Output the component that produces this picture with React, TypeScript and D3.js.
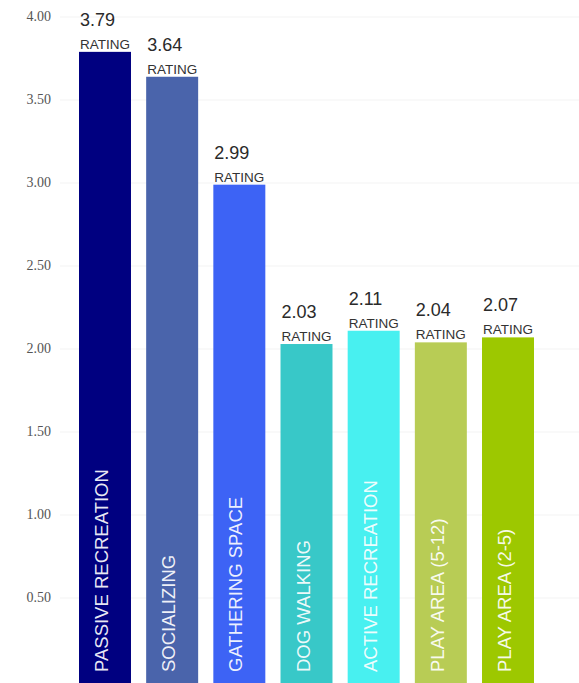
import React from "react";
import * as d3 from "d3";

const categories = [
  "PASSIVE RECREATION",
  "SOCIALIZING",
  "GATHERING SPACE",
  "DOG WALKING",
  "ACTIVE RECREATION",
  "PLAY AREA (5-12)",
  "PLAY AREA (2-5)",
];
const ratings = [3.79, 3.64, 2.99, 2.03, 2.11, 2.04, 2.07];
const colors = ["#000080", "#4a64ab", "#3d63f5", "#38c8c8", "#48f0f0", "#b8cc55", "#9dc800"];
const yTicks = [0.5, 1, 1.5, 2, 2.5, 3, 3.5, 4];
const ratingWord = "RATING";

const W = 579;
const H = 683;

export default function App() {
  const x = d3
    .scaleBand<string>()
    .domain(categories)
    .range([79, 534])
    .paddingInner(0.226)
    .paddingOuter(0);
  const y = d3.scaleLinear().domain([0, 4]).range([681, 17]);
  const bw = x.bandwidth();
  const sans = "Liberation Sans";
  const serif = "Liberation Serif";

  return (
    <div style={{ position: "absolute", left: 0, top: 0 }}>
      <svg width={W} height={H} style={{ display: "block", background: "#ffffff" }}>
        <g>
          {yTicks.map((t) => (
            <line key={"g" + t} x1={60} x2={W} y1={y(t)} y2={y(t)} stroke="#f3f3f3" strokeWidth={1} />
          ))}
        </g>
        <g>
          {yTicks.map((t) => (
            <text
              key={"t" + t}
              x={51}
              y={y(t)}
              dy="0.32em"
              textAnchor="end"
              fontFamily={serif}
              fontSize={14}
              fill="#555"
            >
              {d3.format(".2f")(t)}
            </text>
          ))}
        </g>
        <g>
          {categories.map((c, i) => {
            const x0 = x(c) as number;
            const top = y(ratings[i]);
            return (
              <g key={c}>
                <rect x={x0} y={top} width={bw} height={y(0) - top + 2} fill={colors[i]} />
                <text x={x0 + 1} y={top - 26} fontFamily={sans} fontSize={18} fill="#2a2a2a">
                  {d3.format(".2f")(ratings[i])}
                </text>
                <text
                  x={x0 + 1}
                  y={top - 3}
                  fontFamily={sans}
                  fontSize={13}
                  fill="#333"
                  textLength={bw - 2}
                  lengthAdjust="spacingAndGlyphs"
                >
                  {ratingWord}
                </text>
                <text
                  transform={`translate(${x0 + 29},672) rotate(-90)`}
                  fontFamily={sans}
                  fontSize={18.5}
                  fill="#ffffff"
                  fillOpacity={0.92}
                >
                  {c}
                </text>
              </g>
            );
          })}
        </g>
      </svg>
    </div>
  );
}
